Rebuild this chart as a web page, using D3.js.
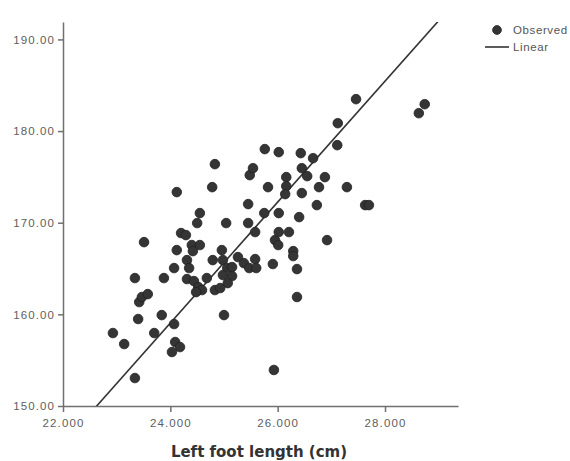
<!DOCTYPE html>
<html><head><meta charset="utf-8">
<script src="https://cdn.jsdelivr.net/npm/d3@7"></script>
<style>body{margin:0;background:#fff}svg{display:block}</style>
</head><body>
<svg id="c" width="570" height="461"></svg>
<script>
const footLength = [22.93,23.14,23.34,23.40,23.42,23.47,23.58,23.51,23.34,23.70,23.84,23.88,24.07,24.09,24.18,24.03,24.07,24.12,24.12,24.20,24.29,24.31,24.35,24.31,24.44,24.40,24.55,24.42,24.52,24.59,24.48,24.55,24.50,24.68,24.79,24.83,24.93,24.83,24.78,25.04,24.96,24.98,25.06,25.15,24.98,25.15,25.07,25.26,25.37,25.47,25.58,25.60,25.00,25.45,25.45,25.48,25.54,25.58,25.75,25.82,25.76,26.02,26.43,25.91,25.95,26.01,26.02,26.21,26.29,26.29,26.36,26.36,25.93,26.02,26.40,26.16,26.16,26.14,26.45,26.55,26.45,26.66,26.88,26.77,26.73,27.29,26.92,27.11,27.12,27.46,27.63,27.70,28.63,28.74];
const height = [157.96,156.76,153.05,159.49,161.34,161.89,162.21,167.88,163.96,157.96,159.92,163.96,158.94,156.98,156.43,155.89,165.05,167.01,173.34,168.87,168.65,165.92,165.05,163.85,163.63,167.56,167.56,166.90,162.98,162.65,162.43,171.05,169.96,163.96,165.92,162.65,162.87,176.39,173.88,169.96,167.01,165.92,165.05,165.16,164.29,164.18,163.41,166.25,165.59,165.05,166.03,165.05,159.92,172.03,169.96,175.19,175.95,168.98,171.05,173.88,178.03,177.70,177.59,165.49,168.10,167.56,168.98,168.98,166.90,166.36,164.94,161.89,153.93,171.05,170.61,174.97,173.99,173.12,175.95,175.08,173.23,177.04,174.97,173.88,171.92,173.88,168.10,178.46,180.86,183.48,171.92,171.92,181.95,182.93];
const xTicks = [22, 24, 26, 28];
const yTicks = [150, 160, 170, 180, 190];
const fitSlope = 6.598;
const fitIntercept = 0.70;
const legendLabels = ["Observed", "Linear"];
const xTitle = "Left foot length (cm)";

const svg = d3.select("#c");
const x = d3.scaleLinear().domain([22, 29.36]).range([63, 458]);
const y = d3.scaleLinear().domain([150, 191.9]).range([406, 22]);
const axisColor = "#707070", labelColor = "#606060", markColor = "#333";

svg.append("defs").append("clipPath").attr("id","plot")
  .append("rect").attr("x",63).attr("y",22).attr("width",395).attr("height",384);

// axes
const xa = svg.append("g").attr("transform","translate(0,406)")
  .call(d3.axisBottom(x).tickValues(xTicks).tickSize(6).tickSizeOuter(0).tickFormat(d3.format(".3f")));
const ya = svg.append("g").attr("transform","translate(63,0)")
  .call(d3.axisLeft(y).tickValues(yTicks).tickSize(5).tickSizeOuter(0).tickFormat(d3.format(".2f")));
[xa, ya].forEach(a => {
  a.select(".domain").attr("stroke", axisColor).attr("stroke-width", 1.5);
  a.selectAll(".tick line").attr("stroke", axisColor).attr("stroke-width", 1.5);
  a.selectAll(".tick text").attr("fill", labelColor)
    .style("font-family", "Liberation Sans, Arial, sans-serif").style("font-size", "11.5px")
    .style("letter-spacing", "1.1px");
});
xa.selectAll(".tick text").attr("dy", "1.0em");
ya.selectAll(".tick text").attr("x", -8);

// regression line
const g = svg.append("g").attr("clip-path","url(#plot)");
const xs = [22, 29.36];
g.append("path")
  .attr("d", d3.line().x(d => x(d)).y(d => y(fitIntercept + fitSlope * d))(xs))
  .attr("stroke", markColor).attr("stroke-width", 1.6).attr("fill", "none");

// points
const pts = footLength.map((v, i) => [v, height[i]]);
svg.append("g").selectAll("circle").data(pts).join("circle")
  .attr("cx", d => x(d[0])).attr("cy", d => y(d[1])).attr("r", 4.8)
  .attr("fill", "#353535").attr("stroke", "#222").attr("stroke-width", 0.8);

// x title
svg.append("text").attr("x", 259).attr("y", 457).attr("text-anchor","middle")
  .style("font-family","DejaVu Sans, Verdana, sans-serif").style("font-weight","bold")
  .style("font-size","15px").attr("fill","#333").text(xTitle);

// legend
const lg = svg.append("g");
lg.append("circle").attr("cx", 497).attr("cy", 30).attr("r", 4.4).attr("fill","#353535").attr("stroke","#222").attr("stroke-width",0.8);
lg.append("line").attr("x1", 485).attr("x2", 509).attr("y1", 47).attr("y2", 47).attr("stroke", markColor).attr("stroke-width", 1.6);
lg.selectAll("text").data(legendLabels).join("text")
  .attr("x", 513).attr("y", (d, i) => 34 + i * 17)
  .style("font-family","Liberation Sans, Arial, sans-serif").style("font-size","11.5px")
  .style("letter-spacing","0.6px").attr("fill","#555").text(d => d);
</script>
</body></html>
